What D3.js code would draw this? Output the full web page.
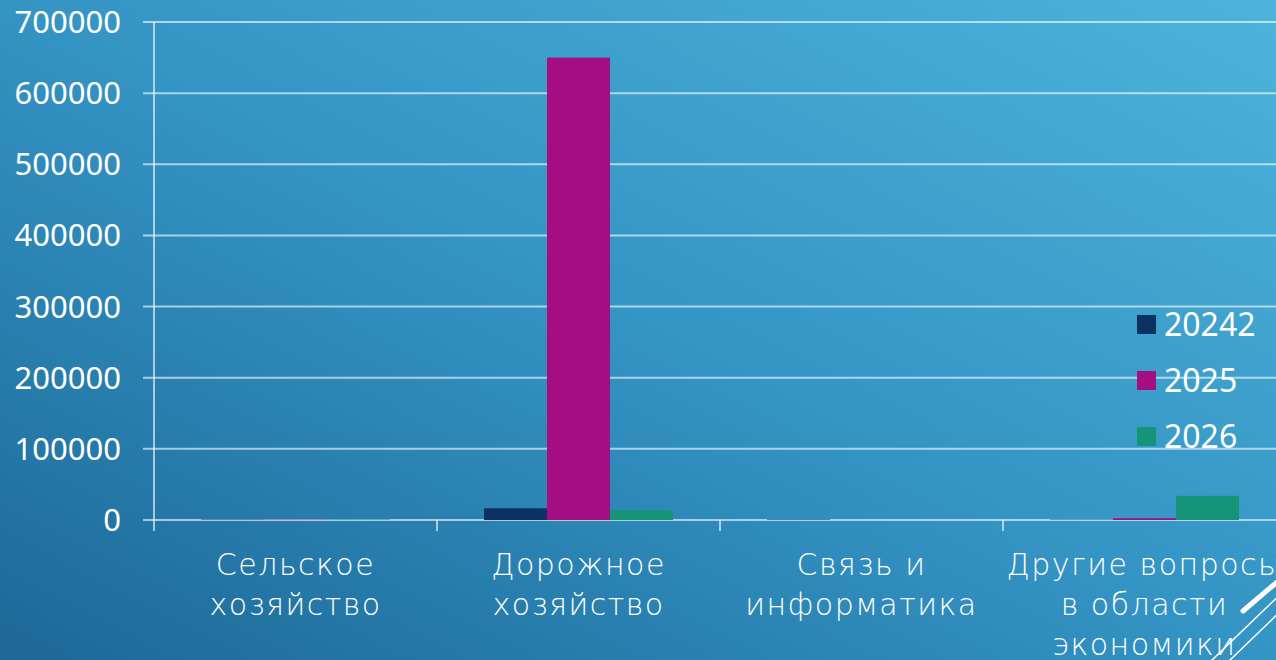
<!DOCTYPE html>
<html><head><meta charset="utf-8">
<script src="https://cdn.jsdelivr.net/npm/d3@7"></script>
<style>html,body{margin:0;padding:0;overflow:hidden;background:#2a86b8}svg{display:block}</style>
</head><body>
<svg id="c" width="1276" height="660"></svg>
<script>
const categories = [["Сельское","хозяйство"],["Дорожное","хозяйство"],["Связь и","информатика"],["Другие вопросы","в области","экономики"]];
const series = ["20242","2025","2026"];
const values20242 = [600, 16500, 700, 500];
const values2025 = [500, 650000, 0, 2500];
const values2026 = [700, 14000, 0, 34000];
const yTicks = [0,100000,200000,300000,400000,500000,600000,700000];
const colors = ["#0c3262","#a40e82","#169477"];

const W = 1276, H = 660;
const svg = d3.select("#c");
const defs = svg.append("defs");
const g = defs.append("linearGradient").attr("id","bg").attr("x1","1").attr("y1","0").attr("x2","0").attr("y2","1");
g.append("stop").attr("offset","0").attr("stop-color","#4cb4da");
g.append("stop").attr("offset","0.5").attr("stop-color","#3494c4");
g.append("stop").attr("offset","1").attr("stop-color","#1c6897");
svg.append("rect").attr("width",W).attr("height",H).attr("fill","url(#bg)");

const font = "'Noto Sans', sans-serif";
const catFont = "'DejaVu Sans', sans-serif";
const plotLeft = 154, plotTop = 22, plotBottom = 520;
const x0 = d3.scaleBand().domain(d3.range(categories.length)).range([plotLeft, plotLeft + 283*4]).paddingInner(0).paddingOuter(0);
const x1 = d3.scaleBand().domain(series).range([0, x0.bandwidth()]).paddingInner(0).paddingOuter(0.746);
const y = d3.scaleLinear().domain([0,700000]).range([plotBottom, plotTop]);

// gridlines
svg.append("g").selectAll("line").data(yTicks).join("line")
  .attr("x1", plotLeft-11).attr("x2", W)
  .attr("y1", d=>y(d)).attr("y2", d=>y(d))
  .attr("stroke","rgba(255,255,255,0.6)").attr("stroke-width",2);
// y axis line
svg.append("line").attr("x1",plotLeft).attr("x2",plotLeft).attr("y1",plotTop).attr("y2",plotBottom+11)
  .attr("stroke","rgba(255,255,255,0.6)").attr("stroke-width",2);
// category ticks
svg.append("g").selectAll("line").data(d3.range(1,categories.length+1)).join("line")
  .attr("x1", d=>x0(0)+d*x0.step()).attr("x2", d=>x0(0)+d*x0.step())
  .attr("y1", plotBottom).attr("y2", plotBottom+11)
  .attr("stroke","rgba(255,255,255,0.6)").attr("stroke-width",2);

// y labels
svg.append("g").selectAll("text").data(yTicks).join("text")
  .attr("x", 121).attr("y", d=>y(d)+11)
  .attr("text-anchor","end").attr("fill","#fff")
  .attr("font-family",font).attr("font-size",31)
  .text(d=>d);

// bars
const data = [values20242, values2025, values2026];
series.forEach((s,si)=>{
  svg.append("g").selectAll("rect").data(data[si]).join("rect")
    .attr("x",(d,i)=>x0(i)+x1(s)).attr("width",x1.bandwidth())
    .attr("y",d=>y(d)).attr("height",d=>Math.max(0,plotBottom-y(d)))
    .attr("fill",colors[si]);
});

// category labels
categories.forEach((lines,i)=>{
  const t = svg.append("text").attr("fill","#fff").attr("font-family",catFont).attr("font-size",30)
    .attr("font-weight",200).attr("letter-spacing",1.5)
    .attr("text-anchor","middle");
  lines.forEach((ln,j)=>{
    t.append("tspan").attr("x", x0(i)+x0.bandwidth()/2).attr("y", 575 + j*40).text(ln);
  });
});

// legend
const lg = svg.append("g");
series.forEach((s,i)=>{
  const yy = 315 + i*56;
  lg.append("rect").attr("x",1137).attr("y",yy).attr("width",19).attr("height",19).attr("fill",colors[i]);
  lg.append("text").attr("x",1164).attr("y",yy+21).attr("fill","#fff")
    .attr("font-family",font).attr("font-size",32).text(s);
});

// decoration
svg.append("line").attr("x1",1243).attr("y1",611).attr("x2",1290).attr("y2",571)
  .attr("stroke","#fff").attr("stroke-width",5).attr("stroke-linecap","round");
svg.append("line").attr("x1",1210).attr("y1",662).attr("x2",1290).attr("y2",585)
  .attr("stroke","#fff").attr("stroke-width",1.5);
svg.append("line").attr("x1",1228).attr("y1",662).attr("x2",1290).attr("y2",602)
  .attr("stroke","#fff").attr("stroke-width",1.5);
</script>
</body></html>
